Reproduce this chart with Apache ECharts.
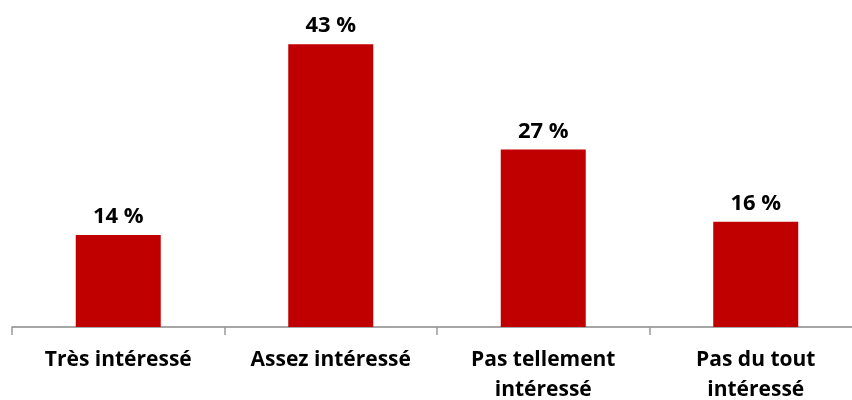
<!DOCTYPE html>
<html>
<head>
<meta charset="utf-8">
<script src="https://cdn.jsdelivr.net/npm/echarts@6/dist/echarts.min.js"></script>
<style>
  html, body { margin: 0; padding: 0; background: #fff; }
  #chart { width: 852px; height: 400px; }
</style>
</head>
<body>
<div id="chart"></div>
<script>
const categories = ["Très intéressé", "Assez intéressé", "Pas tellement\nintéressé", "Pas du tout\nintéressé"];
const values = [14, 43, 27, 16];

const chart = echarts.init(document.getElementById("chart"));
chart.setOption({
  animation: false,
  grid: { left: 12, width: 850, top: 31, bottom: 73, containLabel: false, outerBoundsMode: "none" },
  xAxis: {
    type: "category",
    data: categories,
    axisLine: { lineStyle: { color: "#898989", width: 1.5 } },
    axisTick: { show: true, length: 8, lineStyle: { color: "#9a9a9a", width: 1.5 } },
    axisLabel: {
      color: "#000",
      fontFamily: "Open Sans",
      fontWeight: "bold",
      fontSize: 21,
      lineHeight: 30,
      margin: 18,
      interval: 0,
    },
  },
  yAxis: {
    type: "value",
    min: 0,
    max: 45,
    show: false,
    splitLine: { show: false },
  },
  series: [
    {
      type: "bar",
      data: values,
      barWidth: 85,
      itemStyle: { color: "#c00000" },
      label: {
        show: true,
        position: "top",
        distance: 7,
        color: "#000",
        fontFamily: "Open Sans",
        fontWeight: "bold",
        fontSize: 22,
        formatter: (p) => `${p.value} %`,
      },
    },
  ],
});
</script>
</body>
</html>
